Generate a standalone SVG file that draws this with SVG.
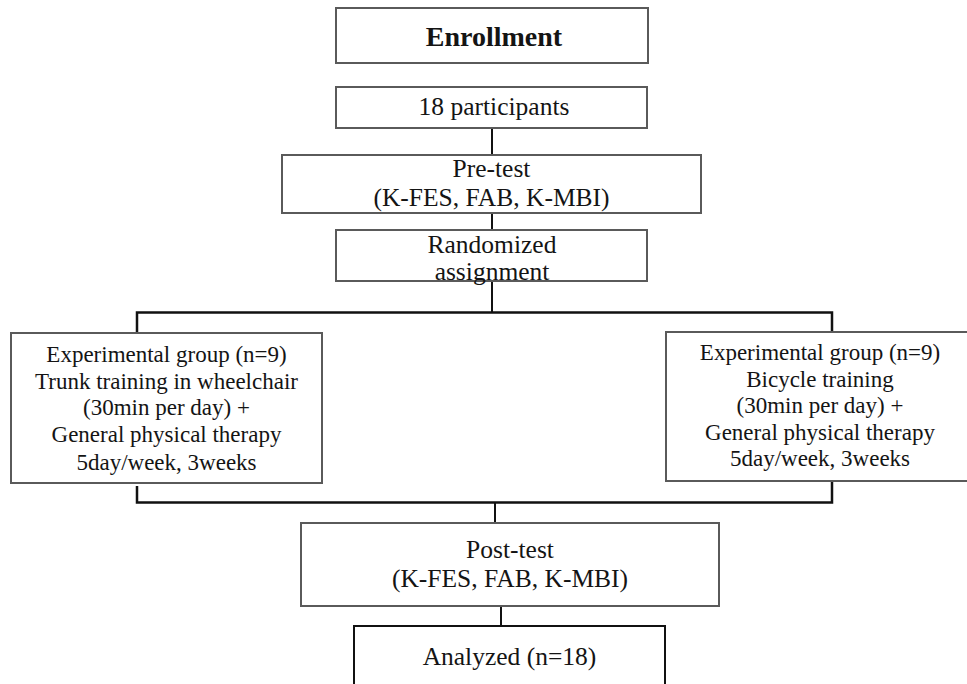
<svg xmlns="http://www.w3.org/2000/svg" width="967" height="684" viewBox="0 0 967 684">
<style>
.box{fill:#fff;stroke:#5a5a5a;stroke-width:2}
.ln{fill:none;stroke:#111;stroke-width:2}
text{font-family:"Liberation Serif","Times New Roman",serif;fill:#141414;text-anchor:middle}
.t{font-size:25.5px}
.s{font-size:23px}
.b{font-size:28px;font-weight:bold}
</style>
<rect width="967" height="684" fill="#fff"/>
<g id="connectors">
<line class="ln" x1="492" y1="128" x2="492" y2="155"/>
<line class="ln" x1="492" y1="213" x2="492" y2="230"/>
<line class="ln" x1="492" y1="281" x2="492" y2="312"/>
<polyline class="ln" points="137,333 137,312.5 832,312.5 832,332" style="stroke-width:2.5"/>
<polyline class="ln" points="137,486 137,502.5 832,502.5 832,482" style="stroke-width:2.5"/>
<line class="ln" x1="495" y1="502" x2="495" y2="523"/>
<line class="ln" x1="501" y1="606" x2="501" y2="626"/>
</g>
<g id="enrollment">
<rect class="box" x="336" y="8" width="312" height="55"/>
<text class="b" x="494" y="46">Enrollment</text>
</g>
<g id="participants">
<rect class="box" x="336" y="87" width="311" height="41"/>
<text class="t" x="494" y="115">18 participants</text>
</g>
<g id="pretest">
<rect class="box" x="282" y="155" width="419" height="58"/>
<text class="t" x="491.5" y="177">Pre-test</text>
<text class="t" x="491.5" y="206">(K-FES, FAB, K-MBI)</text>
</g>
<g id="randomized">
<rect class="box" x="336" y="230" width="311" height="51"/>
<text class="t" x="492" y="253">Randomized</text>
<text class="t" x="492" y="280">assignment</text>
</g>
<g id="group-left">
<rect class="box" x="11" y="333" width="311" height="150"/>
<text class="s" x="166.5" y="362">Experimental group (n=9)</text>
<text class="s" x="166.5" y="389">Trunk training in wheelchair</text>
<text class="s" x="166.5" y="415">(30min per day) +</text>
<text class="s" x="166.5" y="442">General physical therapy</text>
<text class="s" x="166.5" y="470">5day/week, 3weeks</text>
</g>
<g id="group-right">
<rect class="box" x="666" y="332" width="320" height="149"/>
<text class="s" x="820" y="360">Experimental group (n=9)</text>
<text class="s" x="820" y="387">Bicycle training</text>
<text class="s" x="820" y="413">(30min per day) +</text>
<text class="s" x="820" y="440">General physical therapy</text>
<text class="s" x="820" y="466">5day/week, 3weeks</text>
</g>
<g id="posttest">
<rect class="box" x="301" y="523" width="418" height="83"/>
<text class="t" x="510" y="558">Post-test</text>
<text class="t" x="510" y="587">(K-FES, FAB, K-MBI)</text>
</g>
<g id="analyzed">
<rect class="box" x="354" y="626" width="311" height="70" style="stroke:#111"/>
<text class="t" x="509.5" y="665">Analyzed (n=18)</text>
</g>
</svg>
